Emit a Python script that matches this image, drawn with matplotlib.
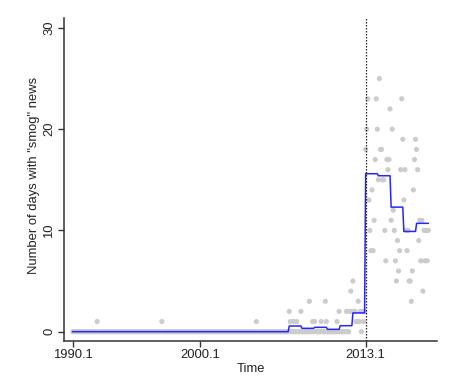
import numpy as np
import matplotlib
matplotlib.use("Agg")
import matplotlib.pyplot as plt

plt.rcParams['font.family'] = ['Liberation Sans', 'DejaVu Sans']

# ---- data ----
# pre-2013 monthly counts: zero except these months (decimal year = year + (month-1)/12)
pre_nonzero_x = [1991.917, 1997.0, 2004.417,
                 2007.0, 2007.083, 2007.333, 2007.583, 2007.917,
                 2008.583, 2008.833,
                 2009.0, 2009.5, 2009.833, 2009.917,
                 2010.75, 2010.917,
                 2011.5, 2011.75, 2011.833, 2011.917,
                 2012.0, 2012.083, 2012.167, 2012.25, 2012.333, 2012.417,
                 2012.5, 2012.583, 2012.75, 2012.833, 2012.917]
pre_nonzero_v = [1, 1, 1,
                 2, 1, 1, 1, 2,
                 3, 1,
                 1, 1, 3, 1,
                 1, 2,
                 2, 2, 4, 2,
                 5, 2, 2, 1, 1, 3,
                 1, 2, 2, 1, 2]

# monthly counts Jan 2013 - Dec 2017
post_values = [18, 20, 23, 13, 10, 8, 14, 8, 11, 17, 23, 20,
               15, 25, 18, 18, 15, 15, 10, 7, 17, 16, 17, 22,
               11, 20, 12, 10, 7, 5, 9, 6, 8, 16, 23, 19,
               13, 16, 10, 8, 10, 5, 5, 3, 6, 14, 17, 19,
               18, 16, 9, 11, 7, 11, 4, 10, 7, 10, 7, 10]

# fitted yearly levels (blue line), 1990..2017
fit_years = list(range(1990, 2018))
fit_values = [0] * 17 + [0.56, 0.33, 0.43, 0.23, 0.59, 1.85,
                         15.6, 15.4, 12.3, 9.9, 10.7]

xtick_pos = [1990, 2000, 2013]
xtick_labels = ["1990.1", "2000.1", "2013.1"]
ytick_pos = [0, 10, 20, 30]
cutoff = 2013.0

# ---- build series ----
pre_months = 1990 + np.arange((2013 - 1990) * 12) / 12.0
pre_vals = np.zeros(len(pre_months))
for xv, vv in zip(pre_nonzero_x, pre_nonzero_v):
    idx = int(round((xv - 1990) * 12))
    pre_vals[idx] = vv
post_months = 2013 + np.arange(len(post_values)) / 12.0

all_x = np.concatenate([pre_months, post_months])
all_v = np.concatenate([pre_vals, np.array(post_values, float)])

fit_x = 1990 + np.arange(len(fit_years) * 12) / 12.0
fit_y = np.repeat(fit_values, 12)

# ---- plot ----
W, H = 473, 383
fig = plt.figure(figsize=(W / 100, H / 100), dpi=100)
ax = fig.add_axes([0.136, 0.1097, 0.787, 0.842])

ax.scatter(all_x, all_v, s=14, color='#cccccc', edgecolors='none', zorder=2)
ax.plot(fit_x, fit_y, color='#2626ff', lw=1.1, zorder=3)
ax.axvline(cutoff, color='#222222', lw=0.9, linestyle=(0, (1.2, 1.2)), zorder=4)

ax.set_xlim(1989.34, 2018.57)
ax.set_ylim(-0.92, 30.93)

for s in ['top', 'right']:
    ax.spines[s].set_visible(False)
for s in ['left', 'bottom']:
    ax.spines[s].set_color('#333333')
    ax.spines[s].set_linewidth(1.1)

fs = 9.4
ax.set_xticks(xtick_pos)
ax.set_xticklabels(xtick_labels)
ax.set_yticks(ytick_pos)
ax.set_yticklabels([str(t) for t in ytick_pos], rotation=90, va='center')
ax.tick_params(axis='both', direction='out', length=4, width=1.0,
               color='#333333', labelsize=fs, labelcolor='#222222')
ax.tick_params(axis='x', pad=1.5)
ax.tick_params(axis='y', pad=2.5)

fig.text(251 / W, 1 - 368.5 / H, "Time", fontsize=fs, color='#222222',
         ha='center', va='center')
fig.text(34 / W, 1 - 175.5 / H, 'Number of days with "smog" news', fontsize=fs,
         color='#222222', ha='center', va='center', rotation=90)

fig.savefig("out.png", dpi=100)
